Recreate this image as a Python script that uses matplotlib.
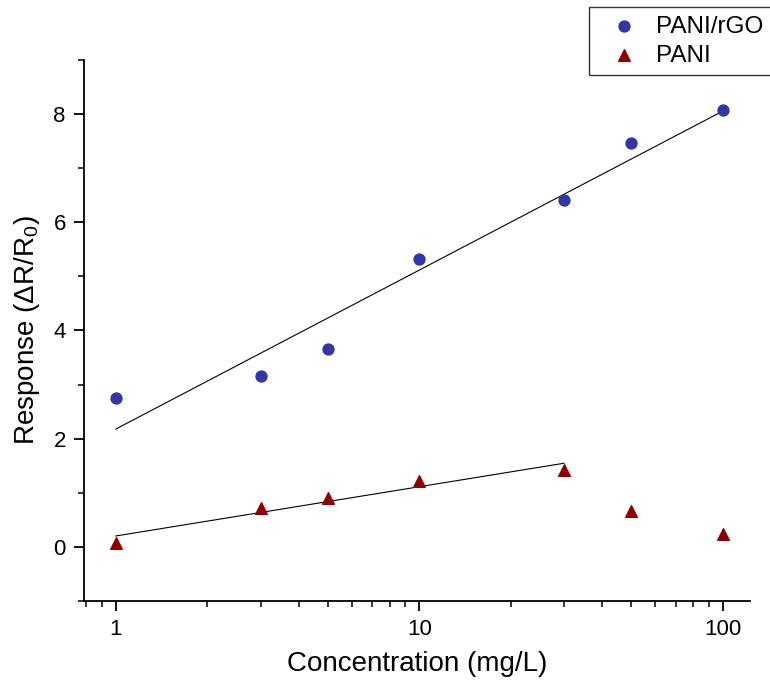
import numpy as np
import matplotlib
matplotlib.use("Agg")
from matplotlib import pyplot as plt
from matplotlib.ticker import FixedLocator, NullFormatter, LogLocator

plt.rcParams['font.family'] = ['Liberation Sans', 'DejaVu Sans']
plt.rcParams['mathtext.default'] = 'regular'

conc = [1, 3, 5, 10, 30, 50, 100]
pani_rgo = [2.76, 3.15, 3.65, 5.33, 6.41, 7.47, 8.08]
pani = [0.08, 0.71, 0.91, 1.21, 1.42, 0.67, 0.24]
pani_fit_n = 5  # PANI fit uses the points up to 30 mg/L

fig = plt.figure(figsize=(7.7, 6.86), dpi=100)
ax = fig.add_axes([0.109, 0.124, 0.865, 0.7885])

blue = "#3535a5"
red = "#8b0000"

ax.scatter(conc, pani_rgo, s=62, marker="o", color=blue, label="PANI/rGO", zorder=3)
ax.scatter(conc, pani, s=70, marker="^", color=red, label="PANI", zorder=3)

# linear fits of response vs log10(concentration)
lx = np.log10(conc)
k1, b1 = np.polyfit(lx, pani_rgo, 1)
xs = np.array([conc[0], conc[-1]])
ax.plot(xs, k1 * np.log10(xs) + b1, color="black", lw=0.8, zorder=2)

k2, b2 = np.polyfit(lx[:pani_fit_n], pani[:pani_fit_n], 1)
xs2 = np.array([conc[0], conc[pani_fit_n - 1]])
ax.plot(xs2, k2 * np.log10(xs2) + b2, color="black", lw=0.8, zorder=2)

ax.set_xscale("log")
ax.set_xlim(0.785, 123)
ax.set_ylim(-1, 9)

ax.set_xticks([1, 10, 100])
ax.set_xticklabels(["1", "10", "100"])
ax.xaxis.set_minor_locator(LogLocator(base=10, subs=np.arange(2, 10)))
ax.xaxis.set_minor_formatter(NullFormatter())
ax.set_yticks([0, 2, 4, 6, 8])
ax.yaxis.set_minor_locator(FixedLocator([-1, 1, 3, 5, 7, 9]))

for s in ["top", "right"]:
    ax.spines[s].set_visible(False)
for s in ["left", "bottom"]:
    ax.spines[s].set_linewidth(1.3)

ax.tick_params(which="major", direction="out", length=7, width=1.3, labelsize=16, pad=6)
ax.tick_params(which="minor", direction="out", length=4, width=1.1)

ax.set_xlabel("Concentration (mg/L)", fontsize=20, labelpad=8)
ax.set_ylabel("Response (ΔR/R$_0$)", fontsize=20, labelpad=8)

leg = fig.legend(loc="upper left", bbox_to_anchor=(589 / 770, 1 - 7 / 686),
                 fontsize=17.5, frameon=True, fancybox=False, borderaxespad=0,
                 handletextpad=0.2, handlelength=2.2, borderpad=0.35,
                 labelspacing=0.3)
leg.get_frame().set_edgecolor("black")
leg.get_frame().set_linewidth(1.0)

fig.savefig("out.png", dpi=100)
